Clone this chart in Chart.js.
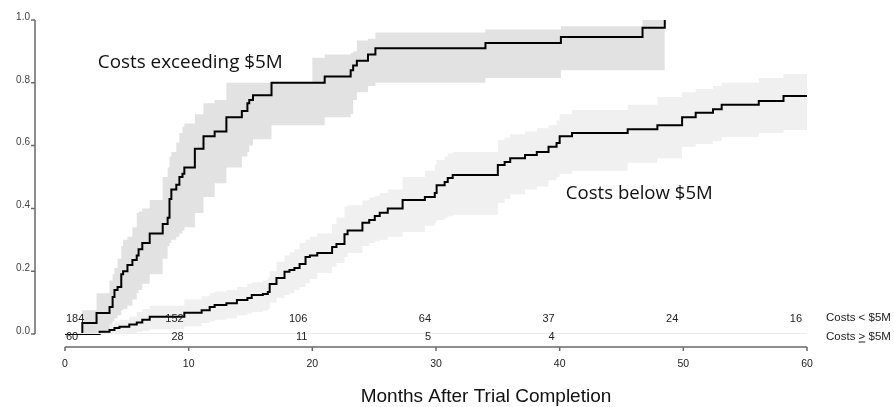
<!DOCTYPE html>
<html>
<head>
<meta charset="utf-8">
<title>Time to results reporting</title>
<script src="https://cdn.jsdelivr.net/npm/chart.js@4.4.0/dist/chart.umd.min.js"></script>
<style>
  html, body { margin: 0; padding: 0; background: #fff; }
</style>
</head>
<body>
<canvas id="kmChart" width="894" height="407"></canvas>
<script>
// Cumulative incidence (step curves)
const hiTime  = [0, 1.4, 2.55, 3.6, 3.85, 4.0, 4.25, 4.55, 4.7, 5.05, 5.45, 5.8, 5.95, 6.25, 6.85, 7.9, 8.3, 8.45, 8.6, 9.0, 9.25, 9.5, 9.65, 10.5, 11.2, 12.1, 13.05, 14.3, 14.75, 14.9, 15.2, 16.7, 20.0, 21.0, 23.1, 23.3, 23.6, 24.5, 25.1, 34.0, 40.1, 46.7, 48.5];
const hiEst   = [0, .035, .067, .086, .118, .14, .15, .19, .20, .22, .236, .25, .27, .29, .32, .35, .37, .43, .46, .475, .50, .51, .53, .59, .63, .645, .69, .71, .735, .745, .76, .80, .80, .82, .84, .855, .87, .89, .91, .927, .946, .975, 1.0];
const hiUpper = [0, .076, .13, .17, .19, .21, .24, .28, .30, .31, .34, .385, .39, .40, .427, .50, .53, .565, .58, .61, .64, .66, .67, .70, .735, .745, .80, .80, .80, .80, .80, .80, .88, .89, .895, .90, .935, .94, .96, .97, .98, 1.0, 1.0];
const hiLower = [0, 0, 0, .03, .04, .05, .06, .076, .08, .09, .11, .13, .14, .16, .19, .24, .28, .29, .30, .31, .32, .33, .34, .385, .436, .48, .53, .565, .58, .60, .62, .665, .665, .69, .70, .745, .77, .79, .80, .815, .84, .84, .84];

const loTime  = [0, 2.8, 3.6, 4.0, 4.4, 5.2, 5.8, 6.25, 6.85, 9.65, 11.05, 11.7, 12.1, 13.05, 13.9, 14.75, 15.1, 16.0, 16.4, 16.55, 17.1, 17.75, 18.15, 18.55, 18.97, 19.45, 19.8, 20.4, 21.6, 21.95, 22.6, 22.85, 24.05, 24.6, 25.05, 25.45, 26.1, 27.3, 29.1, 29.9, 30.05, 30.7, 30.95, 31.35, 35.0, 35.55, 36.0, 37.2, 38.15, 39.1, 39.75, 40.0, 41.0, 45.5, 47.9, 49.9, 51.0, 52.4, 53.1, 56.1, 58.1, 60];
const loEst   = [0, .007, .013, .019, .023, .03, .037, .045, .055, .068, .076, .086, .092, .098, .108, .115, .124, .127, .134, .159, .178, .198, .204, .21, .223, .245, .25, .258, .277, .287, .318, .33, .354, .363, .376, .386, .40, .427, .436, .449, .474, .484, .497, .506, .538, .548, .56, .57, .58, .596, .608, .63, .64, .652, .665, .69, .705, .716, .73, .742, .758, .758];
const loUpper = [0, .02, .03, .04, .045, .055, .07, .08, .09, .11, .12, .13, .135, .14, .15, .16, .165, .17, .18, .20, .23, .25, .26, .27, .29, .30, .31, .32, .35, .37, .405, .41, .425, .435, .44, .449, .46, .50, .52, .54, .554, .565, .575, .58, .618, .625, .635, .645, .655, .665, .68, .70, .713, .73, .755, .77, .78, .79, .80, .815, .828, .828];
const loLower = [0, 0, 0, 0, 0, .003, .006, .01, .015, .025, .035, .04, .045, .05, .06, .065, .07, .075, .08, .10, .115, .124, .13, .14, .15, .162, .175, .194, .215, .226, .245, .258, .28, .29, .295, .30, .31, .325, .345, .355, .363, .37, .375, .38, .417, .43, .445, .46, .47, .49, .50, .51, .52, .545, .56, .596, .605, .615, .627, .64, .65, .655];

// numbers at risk table
const riskTimes = [0, 10, 20, 30, 40, 50, 60];
const riskBelow = [184, 152, 106, 64, 37, 24, 16];
const riskAbove = [60, 28, 11, 5, 4];
const riskLabels = ['Costs < $5M', 'Costs > $5M'];

const xTicks = [0, 10, 20, 30, 40, 50, 60];
const yTicks = [0, 0.2, 0.4, 0.6, 0.8, 1.0];

const xTitle = 'Months After Trial Completion';
const curveLabels = [
  { text: 'Costs exceeding $5M', x: 2.65, y: 0.847, width: 185 },
  { text: 'Costs below $5M', x: 40.5, y: 0.43, width: 147 }
];

const toPoints = (ts, vs) => ts.map((t, i) => ({ x: t, y: vs[i] }));

Chart.defaults.font.family = "'Liberation Sans', Arial, sans-serif";
Chart.defaults.color = '#333';

function band(data, color, fill) {
  return {
    data: data,
    stepped: true,
    fill: fill,
    backgroundColor: color,
    borderColor: 'rgba(0,0,0,0)',
    borderWidth: 0,
    pointRadius: 0,
    order: 2
  };
}

function curve(data) {
  return {
    data: data,
    stepped: true,
    fill: false,
    borderColor: '#000',
    borderWidth: 2,
    borderJoinStyle: 'miter',
    pointRadius: 0,
    clip: 4,
    order: 1
  };
}

// axes drawn offset from the plot (R style), plus the at-risk table and labels
const kmDecor = {
  id: 'kmDecor',
  afterDraw(chart) {
    const ctx = chart.ctx;
    const xs = chart.scales.x, ys = chart.scales.y;
    const area = chart.chartArea;
    const axisX = area.left - 30;
    const axisY = area.bottom + 13;
    ctx.save();

    // faint baseline at zero
    ctx.strokeStyle = '#ececec';
    ctx.lineWidth = 1;
    ctx.beginPath();
    ctx.moveTo(xs.getPixelForValue(0), ys.getPixelForValue(0) - 0.5);
    ctx.lineTo(xs.getPixelForValue(60), ys.getPixelForValue(0) - 0.5);
    ctx.stroke();

    ctx.strokeStyle = '#6a6a6a';
    ctx.lineWidth = 1.5;
    // y axis
    ctx.beginPath();
    ctx.moveTo(axisX, ys.getPixelForValue(1));
    ctx.lineTo(axisX, ys.getPixelForValue(0));
    yTicks.forEach(v => {
      const py = ys.getPixelForValue(v);
      ctx.moveTo(axisX - 4, py);
      ctx.lineTo(axisX, py);
    });
    ctx.stroke();
    // x axis
    ctx.beginPath();
    ctx.moveTo(xs.getPixelForValue(0), axisY);
    ctx.lineTo(xs.getPixelForValue(60), axisY);
    xTicks.forEach(v => {
      const px = xs.getPixelForValue(v);
      ctx.moveTo(px, axisY);
      ctx.lineTo(px, axisY + 4);
    });
    ctx.stroke();

    // numbers at risk
    ctx.fillStyle = '#222';
    ctx.font = "11px 'Liberation Sans', Arial, sans-serif";
    ctx.textBaseline = 'middle';
    const rowTop = area.bottom - 15;
    const rowBot = area.bottom + 2.5;
    const drawRow = (vals, py) => {
      vals.forEach((n, i) => {
        const px = xs.getPixelForValue(riskTimes[i]);
        if (i === 0) {
          ctx.textAlign = 'left';
          ctx.fillText(String(n), px + 1, py);
        } else {
          ctx.textAlign = 'right';
          ctx.fillText(String(n), px - 5, py);
        }
      });
    };
    drawRow(riskBelow, rowTop);
    drawRow(riskAbove, rowBot);

    ctx.font = "11.5px 'Liberation Sans', Arial, sans-serif";
    ctx.textAlign = 'left';
    const lx = area.right + 19;
    ctx.fillText(riskLabels[0], lx, rowTop - 1);
    ctx.fillText(riskLabels[1], lx, rowBot);
    // underline the ">" so it reads as "greater or equal"
    const pre = ctx.measureText('Costs ').width;
    const gw = ctx.measureText('>').width;
    ctx.strokeStyle = '#222';
    ctx.lineWidth = 1;
    ctx.beginPath();
    ctx.moveTo(lx + pre, rowBot + 5.5);
    ctx.lineTo(lx + pre + gw, rowBot + 5.5);
    ctx.stroke();

    // x axis title (centered where the original has it)
    ctx.font = "19px 'Liberation Sans', Arial, sans-serif";
    ctx.textAlign = 'center';
    ctx.textBaseline = 'alphabetic';
    ctx.fillStyle = '#111';
    ctx.fillText(xTitle, 486, 402);

    // curve labels
    ctx.fillStyle = '#111';
    ctx.textAlign = 'left';
    curveLabels.forEach(l => {
      ctx.font = "18px 'Open Sans', sans-serif";
      const w = ctx.measureText(l.text).width;
      const size = 18 * l.width / w;
      ctx.font = size.toFixed(2) + "px 'Open Sans', sans-serif";
      ctx.fillText(l.text, xs.getPixelForValue(l.x), ys.getPixelForValue(l.y));
    });
    ctx.restore();
  }
};

const ctx = document.getElementById('kmChart').getContext('2d');
const kmChart = new Chart(ctx, {
  type: 'line',
  data: {
    datasets: [
      band(toPoints(hiTime, hiUpper), '#e2e2e2', '+1'),
      band(toPoints(hiTime, hiLower), '#e2e2e2', false),
      band(toPoints(loTime, loUpper), '#f0f0f0', '+1'),
      band(toPoints(loTime, loLower), '#f0f0f0', false),
      curve(toPoints(hiTime, hiEst)),
      curve(toPoints(loTime, loEst))
    ]
  },
  options: {
    responsive: false,
    animation: false,
    devicePixelRatio: 1,
    layout: { padding: { top: 20, right: 87, bottom: 0, left: 0 } },
    plugins: {
      legend: { display: false },
      tooltip: { enabled: false },
      filler: { drawTime: 'beforeDatasetsDraw' }
    },
    scales: {
      x: {
        type: 'linear',
        min: 0,
        max: 60,
        grid: { display: false, drawTicks: false },
        border: { display: false },
        ticks: {
          stepSize: 10,
          padding: 24,
          font: { size: 10.5 },
          color: '#222'
        },
        afterFit(scale) { scale.height = 73; }
      },
      y: {
        min: 0,
        max: 1,
        grid: { display: false, drawTicks: false },
        border: { display: false },
        ticks: {
          stepSize: 0.2,
          padding: 35,
          labelOffset: -3,
          font: { size: 10 },
          color: '#444',
          callback: v => Number(v).toFixed(1)
        },
        afterFit(scale) {
          scale.width = 65;
          // tick padding must not push the plot area down
          scale.paddingTop = 0;
          scale.paddingBottom = 0;
        }
      }
    }
  },
  plugins: [kmDecor]
});
</script>
</body>
</html>
